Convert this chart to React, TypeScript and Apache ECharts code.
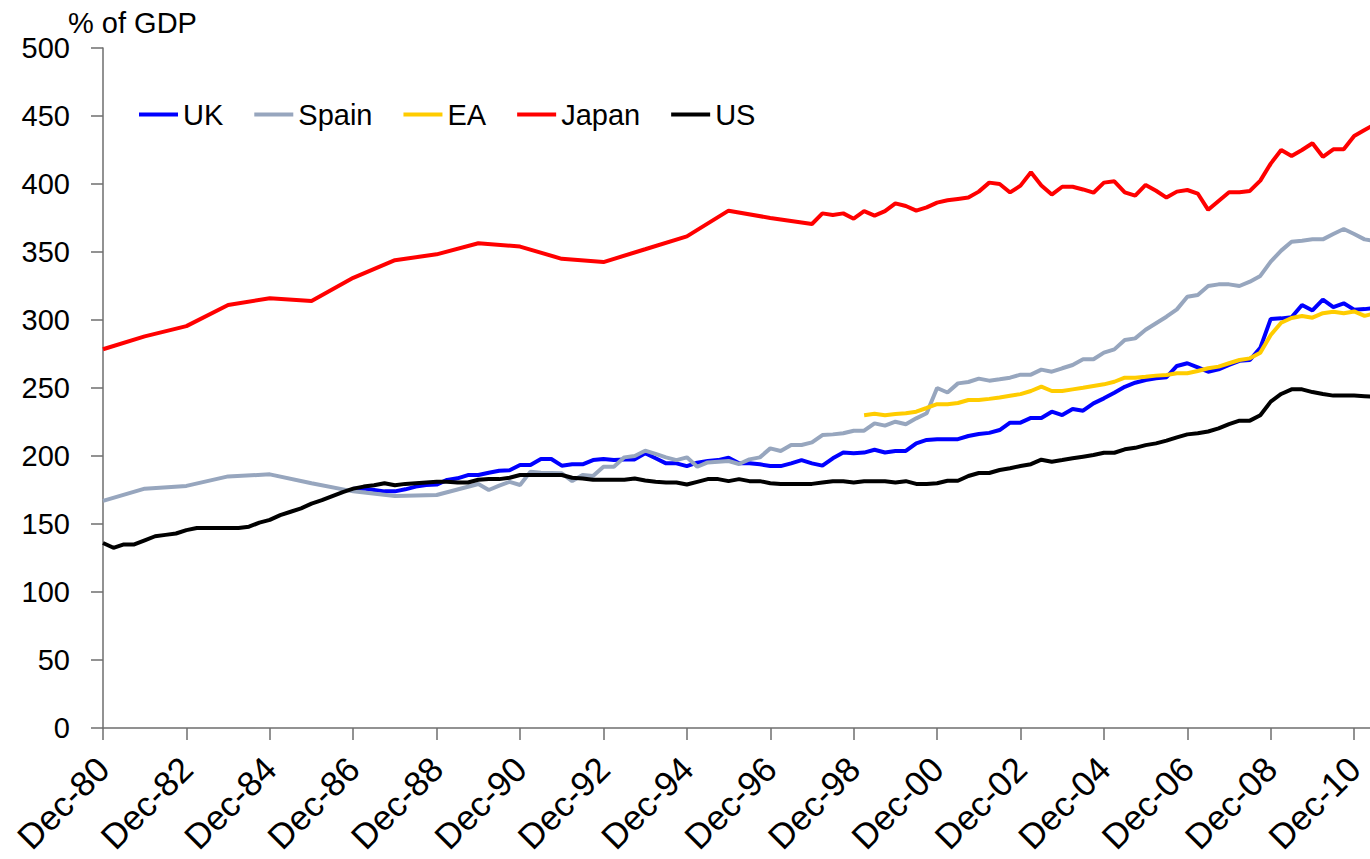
import React, { useEffect, useRef } from "react";
import * as echarts from "echarts";

// Quarterly categories Dec-80 .. Jun-11
const MONTHS = ["Dec", "Mar", "Jun", "Sep"];
const categories: string[] = [];
for (let i = 0; i <= 122; i++) {
  const q = i % 4;
  const yr = 80 + (q === 0 ? i / 4 : Math.ceil(i / 4));
  categories.push(`${MONTHS[q]}-${String(yr % 100).padStart(2, "0")}`);
}

const yTicks = [0, 50, 100, 150, 200, 250, 300, 350, 400, 450, 500];

// index -> value (quarter index from Dec-80)
const ukPoints: [number, number][] = [
  [24, 176], [25, 176], [26, 175], [27, 174], [28, 174], [29, 175.5], [30, 177.5], [31, 178.7], [32, 179],
  [33, 182.4], [34, 183.6], [35, 186], [36, 186], [37, 187.7], [38, 189.2], [39, 189.5], [40, 193.4],
  [41, 193.4], [42, 197.8], [43, 197.8], [44, 192.9], [45, 193.9], [46, 193.9], [47, 197], [48, 197.8],
  [49, 197], [50, 197.5], [51, 197.5], [52, 202], [53, 198.3], [54, 194.6], [55, 194.6], [56, 192.6],
  [57, 195.1], [58, 196.3], [59, 197], [60, 198.8], [61, 194.6], [62, 194.6], [63, 193.9], [64, 192.6],
  [65, 192.6], [66, 194.6], [67, 197], [68, 194.6], [69, 192.9], [70, 198.3], [71, 202.5], [72, 202],
  [73, 202.5], [74, 204.6], [75, 202.6], [76, 203.7], [77, 203.7], [78, 209.3], [79, 211.8], [80, 212.4],
  [81, 212.4], [82, 212.4], [83, 214.7], [84, 216.2], [85, 217], [86, 219.1], [87, 224.5], [88, 224.5],
  [89, 228], [90, 228], [91, 232.6], [92, 230.1], [93, 234.5], [94, 233.3], [95, 238.7], [96, 242.4],
  [97, 246.5], [98, 250.9], [99, 253.9], [100, 255.9], [101, 257.1], [102, 257.9], [103, 266.2],
  [104, 268.2], [105, 265.2], [106, 262], [107, 263.7], [108, 266.9], [109, 270], [110, 270.6],
  [111, 279.5], [112, 300.8], [113, 301.2], [114, 302], [115, 311], [116, 307], [117, 315], [118, 309.5],
  [119, 312.3], [120, 307.6], [121, 308], [122, 309],
];

const spainPoints: [number, number][] = [
  [0, 167], [4, 176], [8, 178], [12, 185], [16, 186.5], [20, 180], [24, 174], [28, 170.6], [32, 171.3],
  [36, 179.4], [37, 175], [38, 178.2], [39, 181], [40, 178.7], [41, 188.5], [42, 187.7], [43, 187.5],
  [44, 187.3], [45, 181.6], [46, 186], [47, 185.3], [48, 192.1], [49, 192.1], [50, 199], [51, 200],
  [52, 203.9], [53, 201.5], [54, 199], [55, 197], [56, 199], [57, 192.1], [58, 195.3], [59, 195.8],
  [60, 196.3], [61, 194.1], [62, 197.5], [63, 199], [64, 205.6], [65, 203.7], [66, 208.1], [67, 208.1],
  [68, 210], [69, 215.4], [70, 215.9], [71, 216.7], [72, 218.6], [73, 218.6], [74, 224], [75, 222.3],
  [76, 225.2], [77, 223.3], [78, 227.7], [79, 231.4], [80, 250], [81, 246.7], [82, 253.4], [83, 254.4],
  [84, 256.9], [85, 255.4], [86, 256.4], [87, 257.6], [88, 259.8], [89, 259.8], [90, 263.5], [91, 262],
  [92, 264.5], [93, 266.9], [94, 271.1], [95, 271.1], [96, 276], [97, 278.4], [98, 285.3], [99, 286.5],
  [100, 292.8], [101, 297.6], [102, 302.4], [103, 307.8], [104, 317.1], [105, 318.4], [106, 325],
  [107, 326.2], [108, 326.2], [109, 325], [110, 328.2], [111, 332.4], [112, 342.9], [113, 351],
  [114, 357.6], [115, 358.3], [116, 359.3], [117, 359.3], [118, 363.2], [119, 366.9], [120, 363.2],
  [121, 359.3], [122, 358],
];

const eaPoints: [number, number][] = [
  [73, 230], [74, 231], [75, 230], [76, 230.9], [77, 231.4], [78, 232.6], [79, 235.3], [80, 238.1],
  [81, 238.1], [82, 239], [83, 241.2], [84, 241.2], [85, 242], [86, 243], [87, 244.3], [88, 245.5],
  [89, 247.8], [90, 251], [91, 247.8], [92, 247.8], [93, 249], [94, 250.2], [95, 251.5], [96, 252.7],
  [97, 254.6], [98, 257.6], [99, 257.6], [100, 258.3], [101, 259.1], [102, 259.6], [103, 260.8],
  [104, 260.8], [105, 262.5], [106, 264.5], [107, 265.7], [108, 268.2], [109, 270.6], [110, 271.8],
  [111, 276], [112, 289], [113, 298], [114, 301.5], [115, 303], [116, 301.7], [117, 305], [118, 306],
  [119, 305], [120, 306.3], [121, 303], [122, 305],
];

const japanPoints: [number, number][] = [
  [0, 278.5], [4, 288], [8, 295.5], [12, 311], [16, 316], [20, 314], [24, 331], [28, 344], [32, 348.3],
  [36, 356.4], [40, 354], [44, 345], [48, 342.6], [52, 352], [56, 361.5], [60, 380.4], [64, 375],
  [68, 370.6], [69, 378.4], [70, 377.2], [71, 378.4], [72, 374.5], [73, 380], [74, 376.7], [75, 380],
  [76, 385.8], [77, 383.8], [78, 380.4], [79, 382.8], [80, 386.3], [81, 388], [82, 389], [83, 390],
  [84, 394.4], [85, 401], [86, 400], [87, 393.8], [88, 398.8], [89, 408.6], [90, 398.9], [91, 392.2],
  [92, 398], [93, 398], [94, 396], [95, 393.6], [96, 401], [97, 402], [98, 393.9], [99, 391.4],
  [100, 399.3], [101, 395], [102, 390], [103, 394.4], [104, 395.6], [105, 393], [106, 381], [107, 387.5],
  [108, 393.9], [109, 394], [110, 394.9], [111, 402.5], [112, 415], [113, 425], [114, 420.6], [115, 425],
  [116, 430], [117, 420], [118, 425.5], [119, 425.5], [120, 435.3], [121, 439.7], [122, 444],
];

const usValues: number[] = [
  136, 132.5, 135, 135, 138, 141, 142, 143, 145.5, 147, 147, 147, 147, 147, 148, 151, 153, 156.5, 159,
  161.5, 165, 167.5, 170.5, 173.5, 176, 177.5, 178.5, 180, 178.5, 179.5, 180, 180.5, 181, 181, 180.5,
  180.5, 182.5, 183, 183, 184, 186, 186, 186, 186, 186, 184, 183.5, 182.5, 182.5, 182.5, 182.5, 183.5,
  182, 181, 180.5, 180.5, 179, 181, 183, 183, 181.5, 183, 181.5, 181.5, 180, 179.5, 179.5, 179.5, 179.5,
  180.5, 181.5, 181.5, 180.5, 181.5, 181.5, 181.5, 180.5, 181.5, 179.5, 179.5, 180, 181.8, 181.8, 185.3,
  187.5, 187.5, 189.7, 191, 192.7, 194, 197.3, 195.8, 197, 198.3, 199.5, 200.7, 202.4, 202.4, 204.9, 206,
  208, 209.3, 211.3, 213.7, 215.9, 216.7, 218, 220.3, 223.5, 226, 226, 230, 240, 245.6, 249, 249, 247,
  245.6, 244.4, 244.4, 244.4, 244, 243.5,
];

const seriesNames = ["UK", "Spain", "EA", "Japan", "US"];
const seriesColors = ["#0000FF", "#97A6BE", "#FFCC00", "#FF0000", "#000000"];

function toFull(points: [number, number][]): (number | null)[] {
  const arr: (number | null)[] = categories.map(() => null);
  points.forEach(([i, v]) => {
    arr[i] = v;
  });
  return arr;
}

const FONT = "'Liberation Sans', Arial, sans-serif";
const FS = 29;

export default function App() {
  const ref = useRef<HTMLDivElement>(null);
  useEffect(() => {
    if (!ref.current) return;
    const chart = echarts.init(ref.current, null, { renderer: "svg" });
    const data = [toFull(ukPoints), toFull(spainPoints), toFull(eaPoints), toFull(japanPoints), usValues];
    chart.setOption({
      animation: false,
      backgroundColor: "#ffffff",
      textStyle: { fontFamily: FONT },
      grid: { left: 103, right: 0, top: 48, bottom: 131, containLabel: false },
      legend: {
        left: 134,
        top: 95,
        itemWidth: 39,
        itemHeight: 4,
        itemGap: 31,
        icon: "rect",
        textStyle: { fontSize: FS, color: "#000", fontFamily: FONT, padding: [0, 0, 0, 0] },
        data: seriesNames,
      },
      graphic: [
        {
          type: "text",
          left: 68,
          top: 8,
          style: { text: "% of GDP", font: `${FS}px ${FONT}`, fill: "#000" },
        },
      ],
      xAxis: {
        type: "category",
        data: categories,
        boundaryGap: false,
        axisLine: { lineStyle: { color: "#6e6e6e", width: 1.5 } },
        axisTick: { interval: 7, length: 12, lineStyle: { color: "#6e6e6e", width: 1.5 } },
        axisLabel: { interval: 7, rotate: 45, fontSize: 35, color: "#000", margin: 35, fontFamily: FONT },
        splitLine: { show: false },
      },
      yAxis: {
        type: "value",
        min: 0,
        max: 500,
        interval: 50,
        axisLine: { show: true, lineStyle: { color: "#6e6e6e", width: 1.5 } },
        axisTick: { show: true, length: 12, lineStyle: { color: "#6e6e6e", width: 1.5 } },
        axisLabel: {
          fontSize: FS,
          color: "#000",
          margin: 33,
          fontFamily: FONT,
          formatter: (v: number) => (yTicks.includes(v) ? String(v) : ""),
        },
        splitLine: { show: false },
      },
      series: seriesNames.map((name, k) => ({
        name,
        type: "line",
        data: data[k],
        connectNulls: true,
        showSymbol: false,
        symbol: "none",
        smooth: false,
        z: 2 + k,
        lineStyle: { color: seriesColors[k], width: 4 },
        itemStyle: { color: seriesColors[k] },
      })),
    });
    return () => chart.dispose();
  }, []);
  return (
    <div style={{ position: "fixed", left: 0, top: 0, width: 1370, height: 859, overflow: "hidden", background: "#fff" }}>
      <div ref={ref} style={{ width: 1375, height: 859 }} />
    </div>
  );
}
